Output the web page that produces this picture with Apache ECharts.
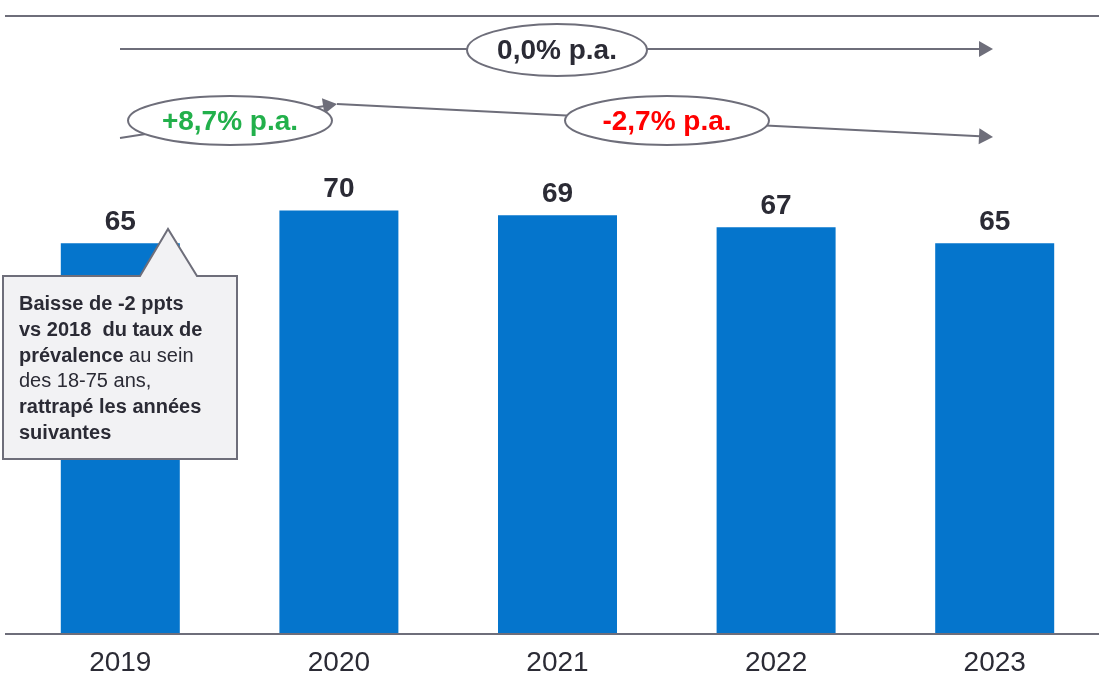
<!DOCTYPE html>
<html>
<head>
<meta charset="utf-8">
<script src="https://cdn.jsdelivr.net/npm/echarts@6/dist/echarts.min.js"></script>
<style>
html,body{margin:0;padding:0;background:#fff;}
#c{width:1099px;height:678px;}
</style>
</head>
<body>
<div id="c"></div>
<script>
const categories = ['2019', '2020', '2021', '2022', '2023'];
const values = [64.5, 69.9, 69.1, 67.1, 64.5];
const growthTotal = '0,0% p.a.';
const growthFirst = '+8,7% p.a.';
const growthSecond = '-2,7% p.a.';

const FONT = '"Liberation Sans", Arial, Helvetica, sans-serif';
const DARK = '#2b2b35';
const GREY = '#6e6e7a';

const chart = echarts.init(document.getElementById('c'), null, {renderer: 'canvas'});

function arrowHead(tx, ty, fromX, fromY) {
  const dx = tx - fromX, dy = ty - fromY;
  const L = Math.sqrt(dx * dx + dy * dy);
  const ux = dx / L, uy = dy / L;
  const bx = tx - 14 * ux, by = ty - 14 * uy;
  const px = -uy * 8, py = ux * 8;
  return {
    type: 'polygon', z: 100,
    shape: {points: [[tx, ty], [bx + px, by + py], [bx - px, by - py]]},
    style: {fill: GREY, stroke: null}
  };
}

const option = {
  animation: false,
  grid: {left: 11, top: 28, width: 1093, height: 606, outerBoundsMode: 'none', containLabel: false},
  xAxis: {
    type: 'category',
    data: categories,
    axisLine: {show: false},
    axisTick: {show: false},
    axisLabel: {fontSize: 28, color: DARK, fontFamily: FONT, margin: 15}
  },
  yAxis: {type: 'value', min: 0, max: 100, show: false, splitLine: {show: false}},
  series: [{
    type: 'bar',
    data: values,
    barWidth: 119,
    itemStyle: {color: '#0575cc'},
    label: {
      show: true, position: 'top', distance: 7,
      fontSize: 28, fontWeight: 'bold', color: DARK, fontFamily: FONT,
      formatter: p => String(Math.round(p.value))
    }
  }],
  graphic: [
    {type: 'line', z: 100, shape: {x1: 5, y1: 16, x2: 1099, y2: 16}, style: {stroke: GREY, lineWidth: 2}},
    {type: 'line', z: 100, shape: {x1: 5, y1: 634, x2: 1099, y2: 634}, style: {stroke: GREY, lineWidth: 2}},
    {type: 'line', z: 100, shape: {x1: 120, y1: 49, x2: 980, y2: 49}, style: {stroke: GREY, lineWidth: 2}},
    arrowHead(993, 49, 120, 49),
    {type: 'line', z: 100, shape: {x1: 120, y1: 138, x2: 325, y2: 106}, style: {stroke: GREY, lineWidth: 2}},
    arrowHead(337, 104, 120, 138),
    {type: 'line', z: 100, shape: {x1: 337, y1: 104, x2: 980, y2: 136.3}, style: {stroke: GREY, lineWidth: 2}},
    arrowHead(993, 137, 337, 104),
    {type: 'ellipse', z: 101, shape: {cx: 557, cy: 50, rx: 90, ry: 26}, style: {fill: '#fff', stroke: GREY, lineWidth: 2}},
    {type: 'ellipse', z: 101, shape: {cx: 230, cy: 120.5, rx: 102, ry: 24.5}, style: {fill: '#fff', stroke: GREY, lineWidth: 2}},
    {type: 'ellipse', z: 101, shape: {cx: 667, cy: 120.5, rx: 102, ry: 24.5}, style: {fill: '#fff', stroke: GREY, lineWidth: 2}},
    {type: 'text', z: 102, style: {x: 557, y: 51, text: growthTotal, textAlign: 'center', textVerticalAlign: 'middle', font: 'bold 28px ' + FONT, fill: DARK}},
    {type: 'text', z: 102, style: {x: 230, y: 122, text: growthFirst, textAlign: 'center', textVerticalAlign: 'middle', font: 'bold 28px ' + FONT, fill: '#22b04b'}},
    {type: 'text', z: 102, style: {x: 667, y: 122, text: growthSecond, textAlign: 'center', textVerticalAlign: 'middle', font: 'bold 28px ' + FONT, fill: '#ff0000'}},
    {type: 'polygon', z: 110,
      shape: {points: [[3, 276], [140, 276], [168, 229], [197, 276], [237, 276], [237, 459], [3, 459]]},
      style: {fill: '#f2f2f4', stroke: GREY, lineWidth: 2}},
    {type: 'text', z: 111, style: {
      x: 19, y: 292,
      text: '{b|Baisse de -2 ppts}\n{b|vs 2018  du taux de}\n{b|prévalence}{n| au sein}\n{n|des 18-75 ans,}\n{b|rattrapé les années}\n{b|suivantes}',
      textVerticalAlign: 'top', textAlign: 'left',
      rich: {
        b: {fontSize: 20, fontWeight: 'bold', fontFamily: FONT, fill: DARK, lineHeight: 25.7},
        n: {fontSize: 20, fontWeight: 'normal', fontFamily: FONT, fill: DARK, lineHeight: 25.7}
      }
    }}
  ]
};
chart.setOption(option);
</script>
</body>
</html>
